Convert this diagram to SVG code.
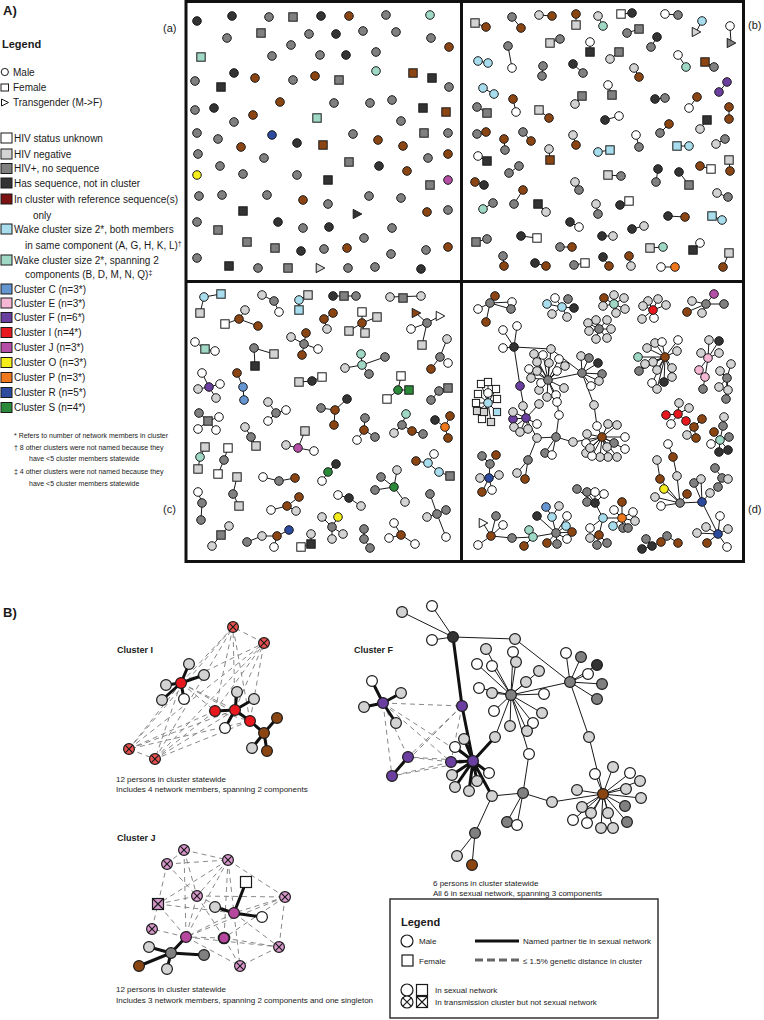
<svg xmlns="http://www.w3.org/2000/svg" width="764" height="1020" viewBox="0 0 764 1020">
<style>
text{font-family:"Liberation Sans",Arial,sans-serif;fill:#1a1a1a}
.f10{font-size:10px}.f7{font-size:7px}.f8{font-size:8px}.f11{font-size:11px}
.bd{font-weight:bold}
.e{stroke:#1a1a1a;stroke-width:1;fill:none}
.tk{stroke:#111;stroke-width:3;fill:none;stroke-linecap:round}
.ds{stroke:#7a7a7a;stroke-width:0.9;fill:none;stroke-dasharray:5 4}
.w{fill:#fff}.l{fill:#d3d3d3}.g{fill:#808080}.d{fill:#333}.b{fill:#8b4513}.m{fill:#9fd9c5}.lb{fill:#a8dded}.C{fill:#6596d2}.E{fill:#f5b7d3}.F{fill:#6b3fa0}.I{fill:#e8191e}.J{fill:#b54ea6}.O{fill:#f5ec1c}.P{fill:#f0781c}.R{fill:#2c4a9e}.S{fill:#2a8a3a}.dr{fill:#7b1111}
.IX{fill:#e8514f}.JX{fill:#d898cc}.JF{fill:#b5479f}
</style>
<defs>
<circle id="o" r="4.3"/>
<rect id="q" x="-4.2" y="-4.2" width="8.4" height="8.4"/>
<path id="t" d="M-3.8,-4.6L4.8,0L-3.8,4.6Z"/>
<rect id="qs" x="-3.6" y="-3.6" width="7.2" height="7.2"/>
<circle id="O" r="5.4"/>
<rect id="Q" x="-5.5" y="-5.5" width="11" height="11"/>
<g id="OX"><circle r="5.4"/><path d="M-3.8,-3.8L3.8,3.8M3.8,-3.8L-3.8,3.8" fill="none"/></g>
<g id="QX"><rect x="-5.5" y="-5.5" width="11" height="11"/><path d="M-5.5,-5.5L5.5,5.5M5.5,-5.5L-5.5,5.5" fill="none"/></g>
</defs>
<rect width="764" height="1020" fill="#fff"/>

<!-- Titles and panel labels -->
<text x="3" y="15" font-size="13" class="bd">A)</text>
<text x="163" y="32" class="f11">(a)</text>
<text x="748" y="29" class="f11">(b)</text>
<text x="163" y="513" class="f11">(c)</text>
<text x="748" y="513" class="f11">(d)</text>

<!-- Legend A -->
<g id="legend-a">
<text x="2" y="48" class="f11 bd">Legend</text>
<g stroke="#1a1a1a" stroke-width="1">
<circle cx="4.8" cy="72" r="3.6" fill="#fff"/>
<rect x="1" y="84" width="7.5" height="7" fill="#fff"/>
<path d="M1.5,99L8.5,102.5L1.5,106Z" fill="#fff"/>
<rect x="1" y="133" width="11" height="10" class="w"/>
<rect x="1" y="149" width="11" height="10" class="l"/>
<rect x="1" y="163.5" width="11" height="10" class="g"/>
<rect x="1" y="178" width="11" height="10" class="d"/>
<rect x="1" y="194" width="11" height="10" class="dr"/>
<rect x="1" y="224" width="11" height="10" class="lb"/>
<rect x="1" y="255" width="11" height="10" class="m"/>
<rect x="1" y="284" width="11" height="10" class="C"/>
<rect x="1" y="298" width="11" height="10" class="E"/>
<rect x="1" y="312.5" width="11" height="10" class="F"/>
<rect x="1" y="327.5" width="11" height="10" class="I"/>
<rect x="1" y="342.5" width="11" height="10" class="J"/>
<rect x="1" y="357.5" width="11" height="10" class="O"/>
<rect x="1" y="372.5" width="11" height="10" class="P"/>
<rect x="1" y="387.5" width="11" height="10" class="R"/>
<rect x="1" y="402.5" width="11" height="10" class="S"/>
</g>
<g class="f10">
<text x="13" y="75.5">Male</text>
<text x="13" y="91">Female</text>
<text x="13" y="106">Transgender (M-&gt;F)</text>
<text x="14" y="141.5">HIV status unknown</text>
<text x="14" y="157.5">HIV negative</text>
<text x="14" y="172">HIV+, no sequence</text>
<text x="14" y="186.5">Has sequence, not in cluster</text>
<text x="14" y="202.5">In cluster with reference sequence(s)</text>
<text x="33" y="218.5">only</text>
<text x="14" y="232.5">Wake cluster size 2*, both members</text>
<text x="25" y="248.5">in same component (A, G, H, K, L)<tspan font-size="7" dy="-3">†</tspan></text>
<text x="14" y="263.5">Wake cluster size 2*, spanning 2</text>
<text x="25" y="277.5">components (B, D, M, N, Q)<tspan font-size="7" dy="-3">‡</tspan></text>
<text x="14" y="292.5">Cluster C (n=3*)</text>
<text x="14" y="306.5">Cluster E (n=3*)</text>
<text x="14" y="321">Cluster F (n=6*)</text>
<text x="14" y="336">Cluster I (n=4*)</text>
<text x="14" y="351">Cluster J (n=3*)</text>
<text x="14" y="366">Cluster O (n=3*)</text>
<text x="14" y="381">Cluster P (n=3*)</text>
<text x="14" y="396">Cluster R (n=5*)</text>
<text x="14" y="411">Cluster S (n=4*)</text>
</g>
<g class="f7">
<text x="14" y="437.5">* Refers to number of network members in cluster</text>
<text x="14" y="450">† 8 other clusters were not named because they</text>
<text x="29" y="461">have &lt;5 cluster members statewide</text>
<text x="14" y="473.5">‡ 4 other clusters were not named because they</text>
<text x="29" y="486">have &lt;5 cluster members statewide</text>
</g>
</g>

<!-- Panel frames -->
<g id="frames" fill="none" stroke="#111" stroke-width="3">
<rect x="186" y="1.5" width="557.5" height="560"/>
<path d="M461.5,1.5V561.5M186,281.5H743.5"/>
</g>

<!-- Panel (a) -->
<g id="panel-a" stroke="#1a1a1a" stroke-width="1">
<use href="#o" x="197" y="21" class="d"/><use href="#o" x="232" y="16" class="d"/><use href="#o" x="269" y="17" class="g"/><use href="#q" x="293" y="17" class="g"/><use href="#o" x="321" y="16" class="d"/><use href="#o" x="349" y="16" class="b"/><use href="#o" x="386" y="15" class="g"/><use href="#o" x="430" y="15" class="m"/>
<use href="#o" x="227" y="38" class="g"/><use href="#q" x="261" y="33" class="g"/><use href="#o" x="309" y="34" class="g"/><use href="#o" x="336" y="34" class="d"/><use href="#o" x="363" y="31" class="g"/><use href="#o" x="396" y="32" class="g"/><use href="#o" x="431" y="38" class="g"/><use href="#o" x="449" y="47" class="b"/><use href="#o" x="291" y="45" class="g"/>
<use href="#q" x="201" y="57" class="m"/><use href="#o" x="272" y="56" class="g"/><use href="#o" x="320" y="55" class="g"/><use href="#o" x="346" y="55" class="d"/><use href="#o" x="376" y="52" class="g"/>
<use href="#o" x="234" y="73" class="d"/><use href="#o" x="255" y="78" class="b"/><use href="#o" x="195" y="81" class="g"/><use href="#q" x="221" y="87" class="d"/><use href="#o" x="293" y="80" class="g"/><use href="#o" x="315" y="76" class="b"/><use href="#q" x="339" y="80" class="g"/><use href="#o" x="376" y="71" class="m"/><use href="#q" x="413" y="73" class="b"/><use href="#q" x="432" y="78" class="d"/><use href="#o" x="449" y="87" class="g"/>
<use href="#o" x="195" y="110" class="g"/><use href="#o" x="214" y="108" class="d"/><use href="#o" x="280" y="102" class="b"/><use href="#o" x="253" y="115" class="b"/><use href="#o" x="334" y="103" class="g"/><use href="#o" x="370" y="103" class="g"/><use href="#o" x="392" y="100" class="g"/><use href="#q" x="423" y="108" class="d"/><use href="#q" x="446" y="112" class="b"/>
<use href="#o" x="234" y="122" class="g"/><use href="#q" x="317" y="118" class="m"/><use href="#o" x="401" y="121" class="g"/>
<use href="#o" x="197" y="133" class="g"/><use href="#o" x="218" y="139" class="g"/><use href="#o" x="272" y="135" class="R"/><use href="#o" x="241" y="147" class="b"/><use href="#o" x="297" y="143" class="d"/><use href="#q" x="323" y="145" class="b"/><use href="#o" x="353" y="134" class="g"/><use href="#o" x="378" y="140" class="b"/><use href="#o" x="403" y="146" class="b"/><use href="#q" x="424" y="133" class="g"/><use href="#o" x="448" y="133" class="g"/>
<use href="#o" x="198" y="154" class="g"/><use href="#o" x="264" y="158" class="g"/><use href="#o" x="220" y="166" class="g"/><use href="#q" x="349" y="162" class="g"/><use href="#o" x="428" y="158" class="g"/><use href="#o" x="448" y="154" class="b"/><use href="#o" x="379" y="166" class="d"/><use href="#o" x="407" y="171" class="b"/>
<use href="#o" x="197" y="175" class="O"/><use href="#o" x="243" y="174" class="g"/><use href="#o" x="297" y="175" class="g"/><use href="#q" x="328" y="180" class="d"/><use href="#q" x="430" y="185" class="g"/><use href="#o" x="448" y="180" class="J"/>
<use href="#o" x="199" y="196" class="g"/><use href="#o" x="222" y="195" class="g"/><use href="#o" x="267" y="195" class="g"/><use href="#o" x="303" y="200" class="b"/><use href="#o" x="328" y="204" class="g"/><use href="#o" x="369" y="196" class="g"/><use href="#o" x="401" y="198" class="g"/>
<use href="#q" x="243" y="211" class="d"/><use href="#t" x="357" y="214" class="d"/><use href="#o" x="427" y="212" class="b"/><use href="#o" x="448" y="210" class="g"/>
<use href="#o" x="197" y="222" class="g"/><use href="#o" x="278" y="222" class="d"/><use href="#q" x="218" y="230" class="g"/><use href="#o" x="303" y="228" class="g"/><use href="#o" x="329" y="227" class="d"/><use href="#o" x="392" y="228" class="g"/>
<use href="#q" x="247" y="242" class="g"/><use href="#q" x="275" y="248" class="g"/><use href="#o" x="301" y="251" class="d"/><use href="#o" x="324" y="249" class="g"/><use href="#o" x="347" y="248" class="b"/><use href="#o" x="364" y="238" class="g"/><use href="#o" x="391" y="254" class="g"/><use href="#o" x="426" y="250" class="g"/><use href="#o" x="448" y="247" class="b"/>
<use href="#o" x="197" y="258" class="g"/><use href="#q" x="229" y="266" class="d"/><use href="#o" x="258" y="268" class="g"/><use href="#q" x="288" y="268" class="g"/><use href="#t" x="320" y="268" class="l"/><use href="#o" x="348" y="268" class="g"/><use href="#o" x="375" y="267" class="g"/><use href="#o" x="421" y="269" class="d"/>
</g>

<!-- Panel (b) -->
<g id="panel-b-connectors" class="e">
<path d="M475,23L486,27M512,17L521,28M539,15L552,16M576,14L576,25M598,16L603,26M621,14L632,13M665,14L678,15M702,21L696,32M730,26L731,43M627,33L639,29M550,43L560,39M590,42L590,52M657,37L651,47M508,46L512,68M478,61L488,63M610,59L619,52M678,55L686,67M705,62L714,67M543,66L542,76M573,64L583,73M634,68L639,77M483,88L494,94M608,85L612,95M575,104L582,96M727,82L719,92M513,99L516,112M477,107L487,113M539,110L549,118M655,99L665,98M689,108L697,97M729,107L729,119M605,120L619,116M700,129L707,120M477,134L486,132M504,139L505,150M523,132L531,141M573,135L576,145M660,133L669,124M636,135L639,147M549,149L550,160M598,152L610,150M677,146L689,146M716,144L725,139M478,156L487,161M509,173L519,166M608,175L621,176M658,169L656,182M679,172L689,185M700,166L711,169M729,160L730,171M475,182L484,185M575,182L579,190M483,209L493,203M514,204L523,190M538,204L546,212M596,204L598,214M620,205L629,201M717,193L728,197M668,216L685,217M712,216L722,220M570,222L579,227M632,229L644,226M476,242L487,239M521,236L537,238M602,236L613,236M700,243L693,250M560,247L572,247M650,248L663,247M503,256L504,266M535,263L546,266M574,265L585,263M603,257L609,266M629,256L631,266M661,267L675,267M729,253L723,267"/>
</g>
<g id="panel-b" stroke="#1a1a1a" stroke-width="1">
<use href="#q" x="475" y="23" class="l"/><use href="#o" x="486" y="27" class="b"/>
<use href="#o" x="512" y="17" class="g"/><use href="#o" x="521" y="28" class="b"/>
<use href="#o" x="539" y="15" class="l"/><use href="#o" x="552" y="16" class="b"/>
<use href="#o" x="576" y="14" class="b"/><use href="#q" x="576" y="25" class="l"/>
<use href="#o" x="598" y="16" class="l"/><use href="#o" x="603" y="26" class="m"/>
<use href="#q" x="621" y="14" class="w"/><use href="#o" x="632" y="13" class="d"/>
<use href="#o" x="665" y="14" class="w"/><use href="#o" x="678" y="15" class="g"/>
<use href="#o" x="702" y="21" class="lb"/><use href="#t" x="696" y="32" class="l"/>
<use href="#o" x="730" y="26" class="w"/><use href="#t" x="731" y="43" class="g"/>
<use href="#o" x="627" y="33" class="g"/><use href="#q" x="639" y="29" class="g"/>
<use href="#q" x="550" y="43" class="l"/><use href="#o" x="560" y="39" class="g"/>
<use href="#o" x="590" y="42" class="w"/><use href="#q" x="590" y="52" class="d"/>
<use href="#o" x="657" y="37" class="d"/><use href="#o" x="651" y="47" class="g"/>
<use href="#o" x="508" y="46" class="g"/><use href="#o" x="512" y="68" class="w"/>
<use href="#o" x="478" y="61" class="lb"/><use href="#o" x="488" y="63" class="lb"/>
<use href="#o" x="610" y="59" class="l"/><use href="#q" x="619" y="52" class="g"/>
<use href="#o" x="678" y="55" class="w"/><use href="#o" x="686" y="67" class="m"/>
<use href="#q" x="705" y="62" class="b"/><use href="#o" x="714" y="67" class="g"/>
<use href="#o" x="543" y="66" class="g"/><use href="#o" x="542" y="76" class="g"/>
<use href="#o" x="573" y="64" class="d"/><use href="#o" x="583" y="73" class="g"/>
<use href="#o" x="634" y="68" class="l"/><use href="#o" x="639" y="77" class="b"/>
<use href="#o" x="483" y="88" class="lb"/><use href="#o" x="494" y="94" class="lb"/>
<use href="#o" x="608" y="85" class="w"/><use href="#q" x="612" y="95" class="g"/>
<use href="#o" x="575" y="104" class="l"/><use href="#q" x="582" y="96" class="g"/>
<use href="#o" x="727" y="82" class="F"/><use href="#o" x="719" y="92" class="F"/>
<use href="#o" x="513" y="99" class="b"/><use href="#o" x="516" y="112" class="w"/>
<use href="#o" x="477" y="107" class="g"/><use href="#q" x="487" y="113" class="g"/>
<use href="#q" x="539" y="110" class="l"/><use href="#o" x="549" y="118" class="b"/>
<use href="#o" x="655" y="99" class="d"/><use href="#o" x="665" y="98" class="g"/>
<use href="#o" x="689" y="108" class="w"/><use href="#o" x="697" y="97" class="b"/>
<use href="#o" x="729" y="107" class="b"/><use href="#o" x="729" y="119" class="b"/>
<use href="#o" x="605" y="120" class="d"/><use href="#o" x="619" y="116" class="w"/>
<use href="#o" x="700" y="129" class="l"/><use href="#q" x="707" y="120" class="d"/>
<use href="#o" x="477" y="134" class="g"/><use href="#o" x="486" y="132" class="b"/>
<use href="#o" x="504" y="139" class="b"/><use href="#o" x="505" y="150" class="g"/>
<use href="#o" x="523" y="132" class="g"/><use href="#o" x="531" y="141" class="b"/>
<use href="#o" x="573" y="135" class="l"/><use href="#o" x="576" y="145" class="b"/>
<use href="#o" x="660" y="133" class="g"/><use href="#o" x="669" y="124" class="b"/>
<use href="#o" x="636" y="135" class="w"/><use href="#o" x="639" y="147" class="g"/>
<use href="#o" x="549" y="149" class="l"/><use href="#q" x="550" y="160" class="b"/>
<use href="#o" x="598" y="152" class="lb"/><use href="#q" x="610" y="150" class="lb"/>
<use href="#q" x="677" y="146" class="lb"/><use href="#o" x="689" y="146" class="lb"/>
<use href="#o" x="716" y="144" class="l"/><use href="#o" x="725" y="139" class="g"/>
<use href="#o" x="478" y="156" class="w"/><use href="#q" x="487" y="161" class="d"/>
<use href="#o" x="509" y="173" class="g"/><use href="#o" x="519" y="166" class="g"/>
<use href="#q" x="608" y="175" class="l"/><use href="#o" x="621" y="176" class="g"/>
<use href="#o" x="658" y="169" class="d"/><use href="#o" x="656" y="182" class="g"/>
<use href="#o" x="679" y="172" class="d"/><use href="#q" x="689" y="185" class="g"/>
<use href="#o" x="700" y="166" class="b"/><use href="#q" x="711" y="169" class="w"/>
<use href="#q" x="729" y="160" class="l"/><use href="#o" x="730" y="171" class="b"/>
<use href="#o" x="475" y="182" class="b"/><use href="#o" x="484" y="185" class="d"/>
<use href="#o" x="575" y="182" class="l"/><use href="#o" x="579" y="190" class="g"/>
<use href="#o" x="483" y="209" class="m"/><use href="#o" x="493" y="203" class="g"/>
<use href="#o" x="514" y="204" class="g"/><use href="#o" x="523" y="190" class="b"/>
<use href="#q" x="538" y="204" class="d"/><use href="#o" x="546" y="212" class="l"/>
<use href="#o" x="596" y="204" class="l"/><use href="#o" x="598" y="214" class="g"/>
<use href="#o" x="620" y="205" class="d"/><use href="#q" x="629" y="201" class="w"/>
<use href="#o" x="717" y="193" class="l"/><use href="#o" x="728" y="197" class="g"/>
<use href="#o" x="668" y="216" class="d"/><use href="#o" x="685" y="217" class="b"/>
<use href="#q" x="712" y="216" class="lb"/><use href="#o" x="722" y="220" class="lb"/>
<use href="#o" x="570" y="222" class="d"/><use href="#o" x="579" y="227" class="w"/>
<use href="#o" x="632" y="229" class="d"/><use href="#o" x="644" y="226" class="l"/>
<use href="#q" x="476" y="242" class="g"/><use href="#o" x="487" y="239" class="g"/>
<use href="#o" x="521" y="236" class="d"/><use href="#q" x="537" y="238" class="w"/>
<use href="#o" x="602" y="236" class="d"/><use href="#o" x="613" y="236" class="l"/>
<use href="#o" x="700" y="243" class="w"/><use href="#q" x="693" y="250" class="d"/>
<use href="#o" x="560" y="247" class="g"/><use href="#o" x="572" y="247" class="b"/>
<use href="#q" x="650" y="248" class="l"/><use href="#o" x="663" y="247" class="m"/>
<use href="#o" x="503" y="256" class="g"/><use href="#o" x="504" y="266" class="b"/>
<use href="#o" x="535" y="263" class="d"/><use href="#o" x="546" y="266" class="b"/>
<use href="#o" x="574" y="265" class="g"/><use href="#q" x="585" y="263" class="w"/>
<use href="#o" x="603" y="257" class="d"/><use href="#o" x="609" y="266" class="b"/>
<use href="#o" x="629" y="256" class="b"/><use href="#o" x="631" y="266" class="l"/>
<use href="#o" x="661" y="267" class="w"/><use href="#o" x="675" y="267" class="P"/>
<use href="#q" x="729" y="253" class="l"/><use href="#o" x="723" y="267" class="b"/>
</g>

<!-- Panel (c) -->
<g id="panel-c-connectors" class="e">
<path d="M204,297L221,294M204,297L200,313M262,295L274,301L279,312M299,300L308,295M299,300L299,310M333,296L356,296M390,297L421,296M239,319L245,310M239,319L225,324M239,319L258,326M333,313L324,319L327,329M362,323L362,312M362,323L377,317M362,323L349,331M362,323L365,333M427,323L416,313M427,323L440,316M427,323L411,329M427,323L422,345M304,344L306,333M304,344L291,337M304,344L318,349M304,344L302,355M195,342L205,349L215,351M254,348L274,354M254,348L255,366M362,365L361,354M362,365L385,357M362,365L345,368M362,365L369,374M440,357L447,339M440,357L448,363M440,357L431,369M209,387L202,373M209,387L220,384M209,387L198,389M209,387L216,398M237,373L243,387L244,400M299,382L312,381L322,377M398,390L401,376M398,390L409,390M398,390L387,399M431,400L439,391L448,388M208,421L199,413M208,421L219,417M208,421L198,429M208,421L216,430M276,413L268,402M276,413L286,410M276,413L268,421M335,410L347,399M335,410L321,408M335,410L334,425M364,430L365,418M364,430L357,440M364,430L375,437M402,425L406,414M402,425L394,433M402,425L412,431L423,434M445,427L435,420M445,427L450,416M445,427L448,438M245,427L251,437L256,446M298,448L305,431M298,448L286,445M298,448L314,451M200,457L205,447M200,457L198,469M224,460L228,448M224,460L218,474M416,461L428,463L434,454M428,463L439,472L450,476M336,464L328,472L322,481M263,477L279,481L295,478M394,487L381,477M394,487L397,470M394,487L375,490M394,487L405,502M233,494L237,477M233,494L239,506M198,492L202,503L201,520M338,495L349,498L361,506M287,506L299,497M287,506L271,510M287,506L296,511M437,514L430,494M437,514L446,510M437,514L427,517M437,514L446,537M332,527L338,517M332,527L322,517M332,527L332,539M332,527L343,534M221,535L229,526M221,535L212,546M247,542L262,536L277,536L289,530M277,536L274,547M311,544L311,534M311,544L301,547M364,529L364,539L370,548M401,535L394,523M401,535L389,538M401,535L415,544"/>
</g>
<g id="panel-c" stroke="#1a1a1a" stroke-width="1">
<use href="#o" x="204" y="297" class="lb"/><use href="#q" x="221" y="294" class="lb"/><use href="#q" x="200" y="313" class="l"/>
<use href="#o" x="262" y="295" class="l"/><use href="#o" x="274" y="301" class="g"/><use href="#o" x="279" y="312" class="w"/>
<use href="#o" x="299" y="300" class="lb"/><use href="#q" x="308" y="295" class="l"/><use href="#q" x="299" y="310" class="lb"/>
<use href="#o" x="333" y="296" class="d"/><use href="#q" x="344" y="296" class="g"/><use href="#o" x="356" y="296" class="g"/>
<use href="#o" x="390" y="297" class="l"/><use href="#q" x="403" y="298" class="g"/><use href="#o" x="421" y="296" class="l"/>
<use href="#o" x="239" y="319" class="b"/><use href="#o" x="245" y="310" class="l"/><use href="#q" x="225" y="324" class="w"/><use href="#o" x="258" y="326" class="b"/>
<use href="#o" x="333" y="313" class="b"/><use href="#o" x="324" y="319" class="b"/><use href="#o" x="327" y="329" class="l"/>
<use href="#o" x="362" y="323" class="b"/><use href="#q" x="362" y="312" class="w"/><use href="#q" x="377" y="317" class="l"/><use href="#q" x="349" y="331" class="l"/><use href="#q" x="365" y="333" class="l"/>
<use href="#o" x="427" y="323" class="g"/><use href="#t" x="416" y="313" class="b"/><use href="#t" x="440" y="316" class="w"/><use href="#o" x="411" y="329" class="w"/><use href="#q" x="422" y="345" class="l"/>
<use href="#o" x="304" y="344" class="g"/><use href="#o" x="306" y="333" class="b"/><use href="#o" x="291" y="337" class="l"/><use href="#o" x="318" y="349" class="w"/><use href="#o" x="302" y="355" class="b"/>
<use href="#o" x="195" y="342" class="w"/><use href="#q" x="205" y="349" class="m"/><use href="#o" x="215" y="351" class="w"/>
<use href="#o" x="254" y="348" class="g"/><use href="#q" x="274" y="354" class="l"/><use href="#q" x="255" y="366" class="d"/>
<use href="#o" x="362" y="365" class="m"/><use href="#o" x="361" y="354" class="m"/><use href="#o" x="385" y="357" class="g"/><use href="#o" x="345" y="368" class="l"/><use href="#o" x="369" y="374" class="g"/>
<use href="#o" x="440" y="357" class="g"/><use href="#o" x="447" y="339" class="l"/><use href="#o" x="448" y="363" class="w"/><use href="#o" x="431" y="369" class="b"/>
<use href="#o" x="209" y="387" class="F"/><use href="#o" x="202" y="373" class="w"/><use href="#o" x="220" y="384" class="w"/><use href="#o" x="198" y="389" class="l"/><use href="#o" x="216" y="398" class="l"/>
<use href="#o" x="237" y="373" class="b"/><use href="#o" x="243" y="387" class="C"/><use href="#o" x="244" y="400" class="C"/>
<use href="#q" x="299" y="382" class="l"/><use href="#o" x="312" y="381" class="d"/><use href="#q" x="322" y="377" class="w"/>
<use href="#o" x="398" y="390" class="S"/><use href="#q" x="401" y="376" class="w"/><use href="#q" x="409" y="390" class="S"/><use href="#q" x="387" y="399" class="w"/>
<use href="#o" x="431" y="400" class="g"/><use href="#o" x="439" y="391" class="g"/><use href="#q" x="448" y="388" class="g"/>
<use href="#q" x="208" y="421" class="g"/><use href="#o" x="199" y="413" class="g"/><use href="#o" x="219" y="417" class="w"/><use href="#o" x="198" y="429" class="w"/><use href="#o" x="216" y="430" class="w"/>
<use href="#o" x="276" y="413" class="g"/><use href="#o" x="268" y="402" class="l"/><use href="#o" x="286" y="410" class="w"/><use href="#o" x="268" y="421" class="w"/>
<use href="#o" x="335" y="410" class="b"/><use href="#o" x="347" y="399" class="d"/><use href="#o" x="321" y="408" class="g"/><use href="#o" x="334" y="425" class="b"/>
<use href="#o" x="364" y="430" class="b"/><use href="#o" x="365" y="418" class="g"/><use href="#o" x="357" y="440" class="w"/><use href="#o" x="375" y="437" class="g"/>
<use href="#o" x="402" y="425" class="g"/><use href="#o" x="406" y="414" class="m"/><use href="#o" x="394" y="433" class="l"/><use href="#o" x="412" y="431" class="b"/><use href="#o" x="423" y="434" class="g"/>
<use href="#o" x="445" y="427" class="P"/><use href="#o" x="435" y="420" class="d"/><use href="#o" x="450" y="416" class="b"/><use href="#o" x="448" y="438" class="b"/>
<use href="#o" x="245" y="427" class="l"/><use href="#o" x="251" y="437" class="g"/><use href="#q" x="256" y="446" class="l"/>
<use href="#o" x="298" y="448" class="J"/><use href="#q" x="305" y="431" class="l"/><use href="#o" x="286" y="445" class="l"/><use href="#o" x="314" y="451" class="w"/>
<use href="#o" x="200" y="457" class="m"/><use href="#q" x="205" y="447" class="l"/><use href="#q" x="198" y="469" class="l"/>
<use href="#o" x="224" y="460" class="g"/><use href="#q" x="228" y="448" class="w"/><use href="#q" x="218" y="474" class="w"/>
<use href="#o" x="416" y="461" class="b"/><use href="#o" x="428" y="463" class="lb"/><use href="#o" x="434" y="454" class="w"/><use href="#o" x="439" y="472" class="lb"/><use href="#q" x="450" y="476" class="g"/>
<use href="#o" x="336" y="464" class="d"/><use href="#o" x="328" y="472" class="S"/><use href="#o" x="322" y="481" class="w"/>
<use href="#o" x="263" y="477" class="w"/><use href="#o" x="279" y="481" class="g"/><use href="#o" x="295" y="478" class="b"/>
<use href="#o" x="394" y="487" class="S"/><use href="#o" x="381" y="477" class="g"/><use href="#o" x="397" y="470" class="l"/><use href="#o" x="375" y="490" class="g"/><use href="#o" x="405" y="502" class="l"/>
<use href="#o" x="233" y="494" class="g"/><use href="#q" x="237" y="477" class="l"/><use href="#q" x="239" y="506" class="l"/>
<use href="#o" x="198" y="492" class="w"/><use href="#o" x="202" y="503" class="g"/><use href="#o" x="201" y="520" class="g"/>
<use href="#o" x="338" y="495" class="w"/><use href="#o" x="349" y="498" class="d"/><use href="#o" x="361" y="506" class="l"/>
<use href="#o" x="287" y="506" class="b"/><use href="#o" x="299" y="497" class="b"/><use href="#o" x="271" y="510" class="w"/><use href="#o" x="296" y="511" class="l"/>
<use href="#o" x="437" y="514" class="g"/><use href="#o" x="430" y="494" class="g"/><use href="#o" x="446" y="510" class="g"/><use href="#o" x="427" y="517" class="l"/><use href="#o" x="446" y="537" class="w"/>
<use href="#o" x="332" y="527" class="g"/><use href="#o" x="338" y="517" class="O"/><use href="#o" x="322" y="517" class="l"/><use href="#o" x="332" y="539" class="l"/><use href="#o" x="343" y="534" class="l"/>
<use href="#q" x="221" y="535" class="g"/><use href="#o" x="229" y="526" class="l"/><use href="#o" x="212" y="546" class="l"/>
<use href="#o" x="247" y="542" class="g"/><use href="#o" x="262" y="536" class="l"/><use href="#o" x="277" y="536" class="b"/><use href="#o" x="289" y="530" class="R"/><use href="#o" x="274" y="547" class="w"/>
<use href="#q" x="311" y="544" class="d"/><use href="#o" x="311" y="534" class="l"/><use href="#q" x="301" y="547" class="w"/>
<use href="#o" x="364" y="529" class="g"/><use href="#o" x="364" y="539" class="g"/><use href="#o" x="370" y="548" class="g"/>
<use href="#o" x="401" y="535" class="b"/><use href="#o" x="394" y="523" class="w"/><use href="#o" x="389" y="538" class="w"/><use href="#o" x="415" y="544" class="w"/>
</g>

<!-- Panel (d) -->
<g id="panel-d-connectors" class="e">
<path d="M490,303L495,296M490,303L512,302M490,303L478,309M490,303L511,309M490,303L486,322"/>
<path d="M562,307L555,298M562,307L568,299M562,307L547,304M562,307L574,308M562,307L552,314M562,307L567,317"/>
<path d="M614,304L604,298M614,304L614,295M614,304L624,298M614,304L603,306M614,304L625,309M614,304L616,313"/>
<path d="M653,310L648,301M653,310L658,299M653,310L643,306M653,310L666,305M653,310L642,319M653,310L654,318"/>
<path d="M706,304L714,294M706,304L724,304M706,304L692,301M706,304L702,313M706,304L687,312"/>
<path d="M599,329L596,320M599,329L607,320M599,329L588,323M599,329L589,331M599,329L611,329M599,329L607,338M599,329L596,339"/>
<path d="M514,347L503,330M514,347L517,326M514,347L503,348M514,347L551,349M514,347L520,386L526,418M526,418L513,419M526,418L523,406M526,418L513,412M526,418L514,427M526,418L520,432M526,418L528,429M526,418L537,424M526,418L539,404M526,418L537,438"/>
<path d="M548,380L551,349M548,380L582,373M551,349L582,373M548,380L557,402L559,415L556,437M548,380L534,354M548,380L543,355M548,380L537,362M548,380L549,363M548,380L559,359M548,380L529,369M548,380L537,371M548,380L565,366M548,380L531,378M548,380L557,371M548,380L539,390M548,380L547,397M548,380L556,395M548,380L564,388M548,380L541,383"/>
<path d="M582,373L581,356M582,373L589,358M582,373L598,363M582,373L602,374M582,373L599,381M582,373L591,386M582,373L594,405L597,426L602,437"/>
<path d="M556,437L537,438M556,437L545,453M556,437L552,455M556,437L573,442L602,437M537,438L528,460L517,473M528,460L525,479"/>
<path d="M602,437L587,434M602,437L608,424M602,437L617,425M602,437L625,437M602,437L586,443M602,437L586,453M602,437L614,443M602,437L625,449M602,437L617,457M602,437L608,457M602,437L600,457M602,437L592,456M602,437L590,448M602,437L607,447"/>
<path d="M488,403L481,384M488,403L488,382M488,403L496,389M488,403L478,394M488,403L497,399M488,403L476,403M488,403L477,411M488,403L497,412M488,403L482,419M488,403L491,422M488,403L484,412M488,403L488,393"/>
<path d="M665,357L638,357M665,357L647,348M665,357L655,343M665,357L662,342M665,357L678,340M665,357L677,351M665,357L653,362M665,357L645,364M665,357L639,371M665,357L657,370M665,357L672,368M665,357L664,382M665,357L672,377M665,357L652,383M665,357L657,389"/>
<path d="M708,358L709,340M708,358L719,341M708,358L719,353M708,358L701,353M708,358L699,370M708,358L705,377L703,389"/>
<path d="M727,378L731,364M727,378L720,371M727,378L719,387M727,378L728,390M727,378L726,399"/>
<path d="M666,415L678,414L686,421L694,427M678,414L679,403M678,414L689,408M678,414L671,424M694,427L702,419M694,427L687,435M694,427L696,438"/>
<path d="M724,417L723,426L720,440M720,440L714,432M720,440L729,437M720,440L711,444M720,440L719,452M720,440L728,450"/>
<path d="M489,478L490,464L496,455M490,464L482,456M489,478L480,478M489,478L499,475M489,478L492,490M489,478L482,492"/>
<path d="M680,503L655,497M680,503L661,506M680,503L664,489M680,503L660,479L657,460M680,503L687,494M680,503L702,502M680,503L677,476L673,457L668,444"/>
<path d="M702,502L694,483M702,502L701,479M702,502L710,493L718,487L722,478L715,468M722,478L728,479M702,502L718,534M718,534L720,516M718,534L706,527M718,534L697,533M718,534L728,529M718,534L707,543M718,534L727,547"/>
<path d="M491,536L483,523M491,536L496,516M491,536L503,525M491,536L478,545M491,536L512,538L533,537L556,533M533,537L529,530M533,537L524,546M556,533L552,517L546,507M552,517L559,506M556,533L537,516M556,533L567,516M556,533L566,526M556,533L572,532M556,533L567,539M556,533L557,544M556,533L547,543"/>
<path d="M595,503L577,489M595,503L587,492M595,503L595,492M595,503L604,494M595,503L587,502M595,503L603,518M603,518L590,528M603,518L599,535M603,518L622,518M599,535L590,538M599,535L597,545M599,535L607,543M622,518L622,502M622,518L614,510M622,518L633,512M622,518L635,521M622,518L613,526M622,518L623,528M622,518L628,528"/>
<path d="M642,549L652,546L646,539M652,546L661,542L667,536L678,543"/>
</g>
<g id="panel-d" stroke="#1a1a1a" stroke-width="1">
<use href="#o" x="490" y="303" class="g"/><use href="#o" x="495" y="296" class="b"/><use href="#o" x="512" y="302" class="w"/><use href="#o" x="478" y="309" class="w"/><use href="#o" x="511" y="309" class="g"/><use href="#o" x="486" y="322" class="b"/>
<use href="#o" x="555" y="298" class="w"/><use href="#o" x="568" y="299" class="g"/><use href="#o" x="547" y="304" class="lb"/><use href="#o" x="574" y="308" class="d"/><use href="#o" x="552" y="314" class="l"/><use href="#o" x="567" y="317" class="l"/><use href="#o" x="562" y="307" class="lb"/>
<use href="#o" x="604" y="298" class="b"/><use href="#o" x="614" y="295" class="l"/><use href="#o" x="624" y="298" class="l"/><use href="#o" x="603" y="306" class="l"/><use href="#o" x="625" y="309" class="l"/><use href="#o" x="616" y="313" class="l"/><use href="#o" x="614" y="304" class="m"/>
<use href="#o" x="648" y="301" class="l"/><use href="#o" x="658" y="299" class="l"/><use href="#o" x="643" y="306" class="l"/><use href="#o" x="666" y="305" class="l"/><use href="#o" x="642" y="319" class="l"/><use href="#o" x="654" y="318" class="w"/><use href="#o" x="653" y="310" class="I"/>
<use href="#o" x="714" y="294" class="J"/><use href="#o" x="724" y="304" class="g"/><use href="#o" x="692" y="301" class="l"/><use href="#o" x="702" y="313" class="l"/><use href="#o" x="687" y="312" class="b"/><use href="#o" x="706" y="304" class="g"/>
<use href="#o" x="596" y="320" class="l"/><use href="#o" x="607" y="320" class="l"/><use href="#o" x="588" y="323" class="l"/><use href="#o" x="589" y="331" class="l"/><use href="#o" x="611" y="329" class="l"/><use href="#o" x="607" y="338" class="l"/><use href="#o" x="596" y="339" class="l"/><use href="#o" x="599" y="329" class="g"/>
<!-- big network -->
<use href="#o" x="503" y="330" class="w"/><use href="#o" x="517" y="326" class="w"/><use href="#o" x="503" y="348" class="w"/><use href="#o" x="514" y="347" class="d"/><use href="#o" x="551" y="349" class="l"/><use href="#o" x="520" y="386" class="F"/>
<use href="#o" x="513" y="419" class="F"/><use href="#o" x="523" y="406" class="l"/><use href="#o" x="513" y="412" class="l"/><use href="#o" x="514" y="427" class="l"/><use href="#o" x="520" y="432" class="l"/><use href="#o" x="528" y="429" class="l"/><use href="#o" x="537" y="424" class="w"/><use href="#o" x="539" y="404" class="l"/><use href="#o" x="537" y="438" class="l"/><use href="#o" x="526" y="418" class="F"/>
<use href="#o" x="534" y="354" class="l"/><use href="#o" x="543" y="355" class="w"/><use href="#o" x="537" y="362" class="l"/><use href="#o" x="549" y="363" class="l"/><use href="#o" x="559" y="359" class="w"/><use href="#o" x="529" y="369" class="w"/><use href="#o" x="537" y="371" class="l"/><use href="#o" x="565" y="366" class="l"/><use href="#o" x="531" y="378" class="l"/><use href="#o" x="557" y="371" class="w"/><use href="#o" x="539" y="390" class="l"/><use href="#o" x="547" y="397" class="l"/><use href="#o" x="556" y="395" class="w"/><use href="#o" x="564" y="388" class="l"/><use href="#o" x="541" y="383" class="w"/><use href="#o" x="548" y="380" class="g"/>
<use href="#o" x="557" y="402" class="w"/><use href="#o" x="559" y="415" class="w"/>
<use href="#o" x="581" y="356" class="l"/><use href="#o" x="589" y="358" class="g"/><use href="#o" x="598" y="363" class="d"/><use href="#o" x="602" y="374" class="g"/><use href="#o" x="599" y="381" class="l"/><use href="#o" x="591" y="386" class="w"/><use href="#o" x="582" y="373" class="g"/>
<use href="#o" x="594" y="405" class="l"/><use href="#o" x="597" y="426" class="w"/>
<use href="#o" x="545" y="453" class="g"/><use href="#o" x="552" y="455" class="w"/><use href="#o" x="573" y="442" class="l"/><use href="#o" x="556" y="437" class="g"/>
<use href="#o" x="528" y="460" class="g"/><use href="#o" x="517" y="473" class="l"/><use href="#o" x="525" y="479" class="b"/>
<use href="#o" x="587" y="434" class="l"/><use href="#o" x="608" y="424" class="l"/><use href="#o" x="617" y="425" class="l"/><use href="#o" x="625" y="437" class="w"/><use href="#o" x="586" y="443" class="w"/><use href="#o" x="586" y="453" class="l"/><use href="#o" x="614" y="443" class="g"/><use href="#o" x="625" y="449" class="w"/><use href="#o" x="617" y="457" class="l"/><use href="#o" x="608" y="457" class="l"/><use href="#o" x="600" y="457" class="l"/><use href="#o" x="592" y="456" class="w"/><use href="#o" x="590" y="448" class="l"/><use href="#o" x="607" y="447" class="l"/><use href="#o" x="602" y="437" class="b"/>
<!-- squares cluster -->
<use href="#qs" x="481" y="384" class="w"/><use href="#qs" x="488" y="382" class="w"/><use href="#qs" x="496" y="389" class="w"/><use href="#qs" x="478" y="394" class="w"/><use href="#qs" x="497" y="399" class="w"/><use href="#qs" x="476" y="403" class="w"/><use href="#qs" x="477" y="411" class="l"/><use href="#qs" x="497" y="412" class="lb"/><use href="#qs" x="482" y="419" class="w"/><use href="#qs" x="491" y="422" class="l"/><use href="#qs" x="484" y="412" class="l"/><use href="#o" x="488" y="393" class="w"/><use href="#o" x="488" y="403" class="lb"/>
<!-- right clusters -->
<use href="#o" x="638" y="357" class="m"/><use href="#o" x="647" y="348" class="l"/><use href="#o" x="655" y="343" class="l"/><use href="#o" x="662" y="342" class="w"/><use href="#o" x="678" y="340" class="w"/><use href="#o" x="677" y="351" class="l"/><use href="#o" x="653" y="362" class="l"/><use href="#o" x="645" y="364" class="l"/><use href="#o" x="639" y="371" class="g"/><use href="#o" x="657" y="370" class="l"/><use href="#o" x="672" y="368" class="l"/><use href="#o" x="664" y="382" class="d"/><use href="#o" x="672" y="377" class="l"/><use href="#o" x="652" y="383" class="w"/><use href="#o" x="657" y="389" class="l"/><use href="#o" x="665" y="357" class="b"/>
<use href="#o" x="709" y="340" class="l"/><use href="#o" x="719" y="341" class="d"/><use href="#o" x="719" y="353" class="l"/><use href="#o" x="701" y="353" class="l"/><use href="#o" x="699" y="370" class="E"/><use href="#o" x="705" y="377" class="E"/><use href="#o" x="703" y="389" class="g"/><use href="#o" x="708" y="358" class="E"/>
<use href="#o" x="731" y="364" class="l"/><use href="#o" x="720" y="371" class="l"/><use href="#o" x="719" y="387" class="l"/><use href="#o" x="728" y="390" class="l"/><use href="#o" x="726" y="399" class="g"/><use href="#o" x="727" y="378" class="g"/>
<use href="#o" x="679" y="403" class="l"/><use href="#o" x="689" y="408" class="l"/><use href="#o" x="671" y="424" class="w"/><use href="#o" x="702" y="419" class="b"/><use href="#o" x="687" y="435" class="l"/><use href="#o" x="696" y="438" class="b"/><use href="#o" x="666" y="415" class="I"/><use href="#o" x="678" y="414" class="I"/><use href="#o" x="686" y="421" class="I"/><use href="#o" x="694" y="427" class="b"/>
<use href="#o" x="724" y="417" class="l"/><use href="#o" x="723" y="426" class="g"/><use href="#o" x="714" y="432" class="b"/><use href="#o" x="729" y="437" class="g"/><use href="#o" x="711" y="444" class="w"/><use href="#o" x="719" y="452" class="d"/><use href="#o" x="728" y="450" class="d"/><use href="#o" x="720" y="440" class="m"/>
<use href="#o" x="490" y="464" class="g"/><use href="#o" x="496" y="455" class="b"/><use href="#o" x="482" y="456" class="g"/><use href="#o" x="480" y="478" class="l"/><use href="#o" x="499" y="475" class="l"/><use href="#o" x="492" y="490" class="w"/><use href="#o" x="482" y="492" class="b"/><use href="#o" x="489" y="478" class="R"/>
<use href="#o" x="655" y="497" class="l"/><use href="#o" x="661" y="506" class="w"/><use href="#o" x="664" y="489" class="O"/><use href="#o" x="660" y="479" class="b"/><use href="#o" x="657" y="460" class="l"/><use href="#o" x="687" y="494" class="b"/><use href="#o" x="677" y="476" class="l"/><use href="#o" x="673" y="457" class="b"/><use href="#o" x="668" y="444" class="w"/><use href="#o" x="680" y="503" class="g"/>
<use href="#o" x="694" y="483" class="g"/><use href="#o" x="701" y="479" class="l"/><use href="#o" x="710" y="493" class="l"/><use href="#o" x="718" y="487" class="g"/><use href="#o" x="722" y="478" class="g"/><use href="#o" x="715" y="468" class="g"/><use href="#o" x="728" y="479" class="l"/><use href="#o" x="702" y="502" class="R"/>
<use href="#o" x="720" y="516" class="w"/><use href="#o" x="706" y="527" class="l"/><use href="#o" x="697" y="533" class="l"/><use href="#o" x="728" y="529" class="l"/><use href="#o" x="707" y="543" class="b"/><use href="#o" x="727" y="547" class="w"/><use href="#o" x="718" y="534" class="R"/>
<use href="#t" x="483" y="523" class="w"/><use href="#o" x="496" y="516" class="g"/><use href="#o" x="503" y="525" class="w"/><use href="#o" x="478" y="545" class="w"/><use href="#o" x="491" y="536" class="b"/><use href="#o" x="512" y="538" class="g"/><use href="#o" x="529" y="530" class="m"/><use href="#o" x="524" y="546" class="b"/><use href="#o" x="533" y="537" class="m"/>
<use href="#o" x="546" y="507" class="C"/><use href="#o" x="559" y="506" class="l"/><use href="#o" x="552" y="517" class="lb"/><use href="#o" x="537" y="516" class="d"/><use href="#o" x="567" y="516" class="w"/><use href="#o" x="566" y="526" class="lb"/><use href="#o" x="572" y="532" class="b"/><use href="#o" x="567" y="539" class="w"/><use href="#o" x="557" y="544" class="g"/><use href="#o" x="547" y="543" class="b"/><use href="#o" x="556" y="533" class="g"/>
<use href="#o" x="577" y="489" class="g"/><use href="#o" x="587" y="492" class="g"/><use href="#o" x="595" y="492" class="w"/><use href="#o" x="604" y="494" class="w"/><use href="#o" x="587" y="502" class="g"/><use href="#o" x="595" y="503" class="d"/>
<use href="#o" x="590" y="528" class="w"/><use href="#o" x="590" y="538" class="l"/><use href="#o" x="597" y="545" class="g"/><use href="#o" x="607" y="543" class="g"/><use href="#o" x="599" y="535" class="b"/><use href="#o" x="603" y="518" class="lb"/>
<use href="#o" x="622" y="502" class="b"/><use href="#o" x="614" y="510" class="w"/><use href="#o" x="633" y="512" class="w"/><use href="#o" x="635" y="521" class="l"/><use href="#o" x="613" y="526" class="lb"/><use href="#o" x="623" y="528" class="g"/><use href="#o" x="628" y="528" class="g"/><use href="#o" x="622" y="518" class="P"/>
<use href="#o" x="642" y="549" class="d"/><use href="#o" x="652" y="546" class="d"/><use href="#o" x="646" y="539" class="g"/><use href="#o" x="661" y="542" class="b"/><use href="#o" x="667" y="536" class="g"/><use href="#o" x="678" y="543" class="b"/>
</g>

<!-- Part B -->
<text x="3" y="617" font-size="13" class="bd">B)</text>
<text x="117" y="653" font-size="9" class="bd">Cluster I</text>
<text x="354" y="653" font-size="9" class="bd">Cluster F</text>
<text x="117" y="841" font-size="9" class="bd">Cluster J</text>
<g class="f8">
<text x="116" y="782">12 persons in cluster statewide</text>
<text x="116" y="792">Includes 4 network members, spanning 2 components</text>
<text x="433" y="886">6 persons in cluster statewide</text>
<text x="433" y="896">All 6 in sexual network, spanning 3 components</text>
<text x="116" y="992">12 persons in cluster statewide</text>
<text x="116" y="1003">Includes 3 network members, spanning 2 components and one singleton</text>
</g>

<!-- Cluster I -->
<g id="cluster-i-connectors">
<path class="ds" d="M181,683L215,711M181,683L235,710M181,683L250,721M181,683L129,749M181,683L155,759M181,683L264,643M181,683L233,627M215,711L250,721M215,711L129,749M215,711L155,759M215,711L264,643M215,711L233,627M235,710L129,749M235,710L155,759M235,710L264,643M235,710L233,627M250,721L129,749M250,721L155,759M250,721L264,643M250,721L233,627M129,749L155,759M129,749L264,643M129,749L233,627M155,759L264,643M155,759L233,627M264,643L233,627"/>
<path class="tk" d="M181,683L189,664M181,683L204,675M181,683L166,685M181,683L162,700M181,683L184,699M215,711L235,710L250,721L264,733M235,710L237,692M235,710L254,699M235,710L225,728M264,733L277,718M264,733L252,748M264,733L267,751"/>
</g>
<g id="cluster-i" stroke="#1a1a1a" stroke-width="1.2">
<use href="#O" x="189" y="664" class="l"/><use href="#O" x="204" y="675" class="l"/><use href="#O" x="166" y="685" class="l"/><use href="#O" x="162" y="700" class="l"/><use href="#O" x="184" y="699" class="w"/><use href="#O" x="181" y="683" class="I"/>
<use href="#O" x="237" y="692" class="l"/><use href="#O" x="254" y="699" class="l"/><use href="#O" x="225" y="728" class="w"/><use href="#O" x="277" y="718" class="b"/><use href="#O" x="252" y="748" class="l"/><use href="#O" x="267" y="751" class="b"/><use href="#O" x="264" y="733" class="b"/>
<use href="#O" x="215" y="711" class="I"/><use href="#O" x="235" y="710" class="I"/><use href="#O" x="250" y="721" class="I"/>
<use href="#OX" x="129" y="749" class="IX"/><use href="#OX" x="155" y="759" class="IX"/><use href="#OX" x="264" y="643" class="IX"/><use href="#OX" x="233" y="627" class="IX"/>
</g>

<!-- Cluster F -->
<g id="cluster-f-connectors">
<path class="ds" d="M383,703L462,706M383,703L473,761M383,703L451,762M383,703L408,757M383,703L392,776M462,706L451,762M462,706L408,757M462,706L392,776M473,761L408,757M473,761L392,776M451,762L408,757M451,762L392,776"/>
<path class="e" d="M453,637L432,640M453,637L432,606M453,637L402,612M453,637L515,639L570,682M511,695L570,682M511,695L486,649M511,695L492,666M511,695L477,664M511,695L513,652M511,695L516,662M511,695L539,671M511,695L526,682M511,695L544,694M511,695L479,688M511,695L492,693M511,695L494,711M511,695L542,713M511,695L533,723M511,695L510,726M511,695L527,731M511,695L529,754L523,793M511,695L495,737M570,682L566,653M570,682L581,657M570,682L597,665M570,682L588,674M570,682L602,684M570,682L597,699M570,682L589,737L603,794M492,796L523,793M492,796L475,833L457,856M475,833L472,865M523,793L507,822M523,793L517,825M523,793L552,802L603,794M603,794L577,790M603,794L595,774M603,794L613,767M603,794L630,773M603,794L626,789M603,794L625,806M603,794L582,807M603,794L591,813M603,794L608,813M603,794L573,820M603,794L587,823M603,794L601,828M603,794L613,828M603,794L627,822M603,794L640,781M603,794L641,798"/>
<path class="tk" d="M453,637L462,706L473,761M473,761L451,762M473,761L464,739M473,761L455,747M473,761L452,775M473,761L455,787M473,761L469,791M473,761L477,781M473,761L489,773M473,761L495,737M473,761L492,796M383,703L372,681M383,703L401,693M383,703L364,707M383,703L396,723M408,757L392,776"/>
</g>
<g id="cluster-f" stroke="#1a1a1a" stroke-width="1.2">
<use href="#O" x="402" y="612" class="l"/><use href="#O" x="432" y="606" class="w"/><use href="#O" x="432" y="640" class="w"/><use href="#O" x="453" y="637" class="d"/><use href="#O" x="515" y="639" class="l"/>
<use href="#O" x="486" y="649" class="l"/><use href="#O" x="492" y="666" class="w"/><use href="#O" x="477" y="664" class="w"/><use href="#O" x="513" y="652" class="w"/><use href="#O" x="516" y="662" class="l"/><use href="#O" x="539" y="671" class="l"/><use href="#O" x="526" y="682" class="l"/><use href="#O" x="544" y="694" class="w"/><use href="#O" x="479" y="688" class="w"/><use href="#O" x="492" y="693" class="l"/><use href="#O" x="494" y="711" class="w"/><use href="#O" x="542" y="713" class="l"/><use href="#O" x="533" y="723" class="w"/><use href="#O" x="510" y="726" class="l"/><use href="#O" x="527" y="731" class="l"/><use href="#O" x="511" y="695" class="g"/>
<use href="#O" x="566" y="653" class="w"/><use href="#O" x="581" y="657" class="g"/><use href="#O" x="597" y="665" class="d"/><use href="#O" x="588" y="674" class="w"/><use href="#O" x="602" y="684" class="g"/><use href="#O" x="597" y="699" class="g"/><use href="#O" x="570" y="682" class="g"/>
<use href="#O" x="589" y="737" class="l"/><use href="#O" x="529" y="754" class="w"/><use href="#O" x="495" y="737" class="l"/>
<use href="#O" x="464" y="739" class="l"/><use href="#O" x="455" y="747" class="w"/><use href="#O" x="452" y="775" class="l"/><use href="#O" x="455" y="787" class="l"/><use href="#O" x="469" y="791" class="l"/><use href="#O" x="477" y="781" class="l"/><use href="#O" x="489" y="773" class="w"/><use href="#O" x="492" y="796" class="l"/>
<use href="#O" x="475" y="833" class="g"/><use href="#O" x="457" y="856" class="l"/><use href="#O" x="472" y="865" class="b"/>
<use href="#O" x="507" y="822" class="g"/><use href="#O" x="517" y="825" class="w"/><use href="#O" x="552" y="802" class="l"/><use href="#O" x="523" y="793" class="g"/>
<use href="#O" x="577" y="790" class="l"/><use href="#O" x="595" y="774" class="w"/><use href="#O" x="613" y="767" class="l"/><use href="#O" x="630" y="773" class="w"/><use href="#O" x="626" y="789" class="l"/><use href="#O" x="625" y="806" class="g"/><use href="#O" x="582" y="807" class="l"/><use href="#O" x="591" y="813" class="l"/><use href="#O" x="608" y="813" class="l"/><use href="#O" x="573" y="820" class="w"/><use href="#O" x="587" y="823" class="w"/><use href="#O" x="601" y="828" class="l"/><use href="#O" x="613" y="828" class="l"/><use href="#O" x="627" y="822" class="g"/><use href="#O" x="640" y="781" class="l"/><use href="#O" x="641" y="798" class="l"/><use href="#O" x="603" y="794" class="b"/>
<use href="#O" x="372" y="681" class="w"/><use href="#O" x="401" y="693" class="l"/><use href="#O" x="364" y="707" class="l"/><use href="#O" x="396" y="723" class="l"/>
<use href="#O" x="383" y="703" class="F"/><use href="#O" x="462" y="706" class="F"/><use href="#O" x="451" y="762" class="F"/><use href="#O" x="473" y="761" class="F"/><use href="#O" x="408" y="757" class="F"/><use href="#O" x="392" y="776" class="F"/>
</g>

<!-- Cluster J -->
<g id="cluster-j-connectors">
<path class="ds" d="M184,850L167,864M184,850L228,860M184,850L197,896M184,850L186,937M167,864L228,860M167,864L158,904M167,864L197,896M228,860L197,896M228,860L234,913M228,860L285,897M228,860L186,937M228,860L224,938M228,860L158,904M197,896L234,913M197,896L285,897M197,896L186,937M197,896L158,904M285,897L234,913M285,897L279,947M285,897L186,937M285,897L224,938M234,913L186,937M234,913L279,947M234,913L240,966M224,938L279,947M224,938L240,966M224,938L186,937M224,938L197,896M186,937L152,929M186,937L158,904M186,937L240,966M279,947L240,966M152,929L158,904M186,937L279,947M234,913L158,904"/>
<path class="tk" d="M234,913L246,882M234,913L215,907M234,913L262,917M186,937L171,953L149,947M171,953L139,966M171,953L167,969M171,953L204,955"/>
</g>
<g id="cluster-j" stroke="#1a1a1a" stroke-width="1.2">
<use href="#OX" x="184" y="850" class="JX"/><use href="#OX" x="167" y="864" class="JX"/><use href="#OX" x="228" y="860" class="JX"/><use href="#OX" x="197" y="896" class="JX"/><use href="#OX" x="285" y="897" class="JX"/><use href="#OX" x="152" y="929" class="JX"/><use href="#OX" x="279" y="947" class="JX"/><use href="#OX" x="240" y="966" class="JX"/><use href="#QX" x="158" y="904" class="JX"/>
<use href="#Q" x="246" y="882" class="w"/><use href="#O" x="215" y="907" class="l"/><use href="#O" x="262" y="917" class="w"/><use href="#O" x="234" y="913" class="JF"/>
<use href="#O" x="224" y="938" class="JF" stroke-width="1.8"/>
<use href="#O" x="149" y="947" class="l"/><use href="#O" x="139" y="966" class="b"/><use href="#O" x="167" y="969" class="l"/><use href="#O" x="204" y="955" class="g"/><use href="#O" x="171" y="953" class="g"/><use href="#O" x="186" y="937" class="JF"/>
</g>

<!-- Legend B -->
<g id="legend-b">
<rect x="390" y="899" width="268" height="119" fill="#fff" stroke="#333" stroke-width="1.5"/>
<text x="401" y="926" font-size="11" class="bd">Legend</text>
<g stroke="#1a1a1a" stroke-width="1.2" fill="#fff">
<circle cx="407" cy="941" r="6"/>
<rect x="402" y="955" width="11" height="11"/>
<circle cx="407" cy="990" r="6"/>
<rect x="416.5" y="984.5" width="11" height="11"/>
<circle cx="407" cy="1002" r="6"/>
<path d="M402.8,997.8L411.2,1006.2M411.2,997.8L402.8,1006.2" fill="none"/>
<rect x="416.5" y="996.5" width="11" height="11"/>
<path d="M416.5,996.5L427.5,1007.5M427.5,996.5L416.5,1007.5" fill="none"/>
</g>
<path d="M475,941H519" stroke="#111" stroke-width="3"/>
<path d="M475,960H519" stroke="#666" stroke-width="3" stroke-dasharray="8 4"/>
<g class="f8">
<text x="419" y="944">Male</text>
<text x="419" y="963.5">Female</text>
<text x="523" y="944">Named partner tie in sexual network</text>
<text x="523" y="963.5">≤ 1.5% genetic distance in cluster</text>
<text x="435" y="993">In sexual network</text>
<text x="435" y="1005">In transmission cluster but not sexual network</text>
</g>
</g>
</svg>
